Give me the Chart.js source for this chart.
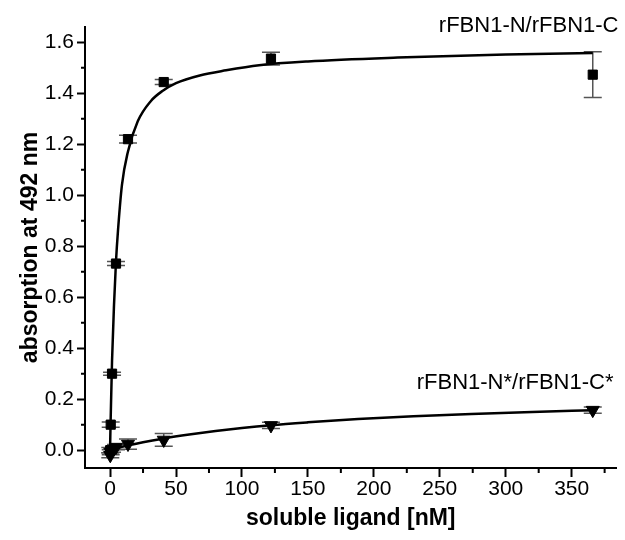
<!DOCTYPE html>
<html>
<head>
<meta charset="utf-8">
<script src="https://cdn.jsdelivr.net/npm/chart.js@4/dist/chart.umd.min.js"></script>
<style>
  body { margin: 0; background: #fff; }
  #wrap { width: 625px; height: 540px; }
</style>
</head>
<body>
<div id="wrap"><canvas id="myChart" width="625" height="540"></canvas></div>
<script>
// soluble ligand concentrations [nM]
var conc = [366, 122, 40.7, 13.6, 4.5, 1.5, 0.5, 0.17]

// rFBN1-N / rFBN1-C (squares)
var absN = [1.473, 1.536, 1.444, 1.22, 0.732, 0.30, 0.10, 0.0]
var errN = [0.09, 0.025, 0.01, 0.015, 0.008, 0.006, 0.01, 0.01]

// rFBN1-N* / rFBN1-C* (triangles)
var absStar = [0.157, 0.097, 0.04, 0.024, 0.012, 0.0, -0.008, -0.02]
var errStar = [0.012, 0.012, 0.025, 0.02, 0.01, 0.008, 0.01, 0.01]

// fitted curves
var fitConcN = [0, 0.17, 0.5, 1.5, 3, 4.5, 6, 9, 13.5, 21, 31, 40, 50, 68, 88, 113, 150, 218, 300, 366]
var fitN = [0, 0.05, 0.13, 0.35, 0.57, 0.74, 0.86, 1.04, 1.17, 1.29, 1.37, 1.41, 1.44, 1.47, 1.49, 1.51, 1.525, 1.54, 1.552, 1.558]
var fitConcStar = [0, 5, 14, 25, 40, 60, 80, 100, 122, 150, 188, 230, 274, 320, 366]
var fitStar = [0, 0.008, 0.019, 0.031, 0.045, 0.061, 0.075, 0.087, 0.098, 0.109, 0.122, 0.133, 0.142, 0.15, 0.157]

var xTicks = [0, 50, 100, 150, 200, 250, 300, 350]
var yTicks = [0.0, 0.2, 0.4, 0.6, 0.8, 1.0, 1.2, 1.4, 1.6]

var labelN = "rFBN1-N/rFBN1-C"
var labelStar = "rFBN1-N*/rFBN1-C*"

Chart.defaults.font.family = "'Liberation Sans', Arial, sans-serif"
Chart.defaults.color = "#000"

function pairs(xs, ys) {
  var res = []
  for (var i = 0; i < xs.length; i++) {
    res.push({ x: xs[i], y: ys[i] })
  }
  return res
}

var errorBars = {
  id: "errorBars",
  beforeDatasetsDraw: function(chart) {
    var ctx = chart.ctx
    var xs = chart.scales.x
    var ys = chart.scales.y
    ctx.save()
    ctx.strokeStyle = "#555"
    ctx.lineWidth = 1.5
    var sets = [[absN, errN], [absStar, errStar]]
    sets.forEach(function(s) {
      for (var i = 0; i < conc.length; i++) {
        var px = xs.getPixelForValue(conc[i])
        var top = ys.getPixelForValue(s[0][i] + s[1][i])
        var bot = ys.getPixelForValue(s[0][i] - s[1][i])
        ctx.beginPath()
        ctx.moveTo(px, top); ctx.lineTo(px, bot)
        ctx.moveTo(px - 9, top); ctx.lineTo(px + 9, top)
        ctx.moveTo(px - 9, bot); ctx.lineTo(px + 9, bot)
        ctx.stroke()
      }
    })
    ctx.restore()
  }
}

var minorTicks = {
  id: "minorTicks",
  afterDraw: function(chart) {
    var ctx = chart.ctx
    var xs = chart.scales.x
    var ys = chart.scales.y
    var area = chart.chartArea
    ctx.save()
    ctx.strokeStyle = "#000"
    ctx.lineWidth = 2
    ctx.beginPath()
    for (var i = 0; i < xTicks.length; i++) {
      var v = xTicks[i] + 25
      if (v > xs.max) continue
      var px = xs.getPixelForValue(v)
      ctx.moveTo(px, area.bottom); ctx.lineTo(px, area.bottom + 5)
    }
    for (var j = 0; j < yTicks.length; j++) {
      var w = yTicks[j] + 0.1
      if (w > ys.max) continue
      var py = ys.getPixelForValue(w)
      ctx.moveTo(area.left, py); ctx.lineTo(area.left - 4, py)
    }
    ctx.stroke()

    // curve labels
    ctx.fillStyle = "#000"
    ctx.font = "22px 'Liberation Sans', Arial, sans-serif"
    ctx.textAlign = "right"
    ctx.textBaseline = "middle"
    ctx.fillText(labelN, area.right + 2, area.top - 1)
    ctx.fillText(labelStar, area.right - 3, ys.getPixelForValue(0.265))
    ctx.restore()
  }
}

var ctx = document.getElementById("myChart")
var myChart = new Chart(ctx, {
  type: "scatter",
  data: {
    datasets: [
      {
        label: labelN,
        data: pairs(conc, absN),
        pointStyle: "rect",
        pointRadius: 6.5,
        pointHoverRadius: 6.5,
        backgroundColor: "#000",
        borderColor: "#000",
        borderWidth: 1,
        order: 0
      },
      {
        label: labelStar,
        data: pairs(conc, absStar),
        pointStyle: "triangle",
        rotation: 180,
        pointRadius: 7.5,
        pointHoverRadius: 7.5,
        backgroundColor: "#000",
        borderColor: "#000",
        borderWidth: 1,
        order: 0
      },
      {
        type: "line",
        data: pairs(fitConcN, fitN),
        borderColor: "#000",
        borderWidth: 2.5,
        pointRadius: 0,
        cubicInterpolationMode: "monotone",
        fill: false,
        order: 1
      },
      {
        type: "line",
        data: pairs(fitConcStar, fitStar),
        borderColor: "#000",
        borderWidth: 2.5,
        pointRadius: 0,
        cubicInterpolationMode: "monotone",
        fill: false,
        order: 1
      }
    ]
  },
  options: {
    responsive: false,
    animation: false,
    events: [],
    layout: { padding: { top: 27, right: 5, left: 0, bottom: 0 } },
    plugins: {
      legend: { display: false },
      tooltip: { enabled: false }
    },
    scales: {
      x: {
        type: "linear",
        min: -19,
        max: 384,
        afterFit: function(s) { s.height = 72 },
        border: { display: true, color: "#000", width: 2 },
        grid: { drawOnChartArea: false, tickLength: 9, tickWidth: 2, tickColor: "#000" },
        ticks: {
          stepSize: 50,
          includeBounds: false,
          padding: 0,
          maxRotation: 0,
          font: { size: 21 },
          callback: function(v) { return xTicks.indexOf(v) >= 0 ? String(v) : "" }
        },
        title: {
          display: true,
          text: "soluble ligand [nM]",
          font: { size: 23, weight: "bold" },
          padding: { top: 0, bottom: 8 }
        }
      },
      y: {
        min: -0.07,
        max: 1.66,
        afterFit: function(s) { s.width = 85 },
        border: { display: true, color: "#000", width: 2 },
        grid: { drawOnChartArea: false, tickLength: 8, tickWidth: 2, tickColor: "#000" },
        ticks: {
          stepSize: 0.2,
          includeBounds: false,
          padding: 3,
          font: { size: 21 },
          callback: function(v) { return v.toFixed(1) }
        },
        title: {
          display: true,
          text: "absorption at 492 nm",
          font: { size: 23, weight: "bold" },
          padding: { top: 17, bottom: 0 }
        }
      }
    }
  },
  plugins: [errorBars, minorTicks]
})
</script>
</body>
</html>
